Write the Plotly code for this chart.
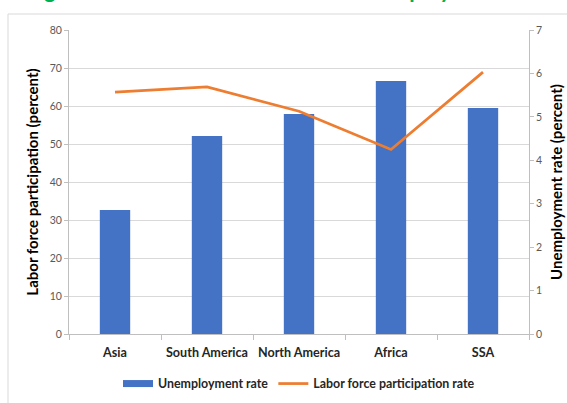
import plotly.graph_objects as go

regions = ["Asia", "South America", "North America", "Africa", "SSA"]
bar_values = [32.6, 52.1, 57.9, 66.6, 59.5]
line_values = [5.57, 5.69, 5.13, 4.25, 6.03]
left_ticks = [0, 10, 20, 30, 40, 50, 60, 70, 80]
right_ticks = [0, 1, 2, 3, 4, 5, 6, 7]

W, H = 567, 403
L, R, T, B = 69, 38, 30, 69
pw, ph = W - L - R, H - T - B

def px_x(p):
    return (p - L) / pw

def px_y(p):
    return (H - B - p) / ph

FONT = "Lato"
BLUE = "#4472C4"
ORANGE = "#ED7D31"

fig = go.Figure()
fig.add_trace(go.Bar(
    x=regions, y=bar_values, name="Unemployment rate",
    marker=dict(color=BLUE, line=dict(width=0)), width=0.33,
    yaxis="y", showlegend=False,
))
# legend proxy (wide rectangle swatch like the reference)
fig.add_trace(go.Scatter(
    x=[None], y=[None], name="Unemployment rate", mode="lines",
    line=dict(color=BLUE, width=7), yaxis="y",
))
fig.add_trace(go.Scatter(
    x=regions, y=line_values, name="Labor force participation rate",
    mode="lines", line=dict(color=ORANGE, width=2.75), yaxis="y2",
))

fig.update_layout(
    width=W, height=H,
    margin=dict(l=L, r=R, t=T, b=B, autoexpand=False),
    paper_bgcolor="white", plot_bgcolor="white",
    font=dict(family=FONT, color="#595959", size=10.5),
    showlegend=True,
    legend=dict(orientation="h", x=0.5, xanchor="center", y=px_y(384), yanchor="middle",
                font=dict(family=FONT, size=12.4, color="#262626", weight="bold"),
                tracegroupgap=0, itemwidth=30),
    xaxis=dict(
        type="category", showgrid=False, showline=True, linecolor="#bfbfbf", linewidth=1,
        ticks="outside", tickson="boundaries", ticklen=5, tickcolor="#bfbfbf",
        tickangle=0, ticklabelstandoff=7,
        tickfont=dict(family=FONT, size=12.6, color="#262626", weight="bold"),
        automargin=False,
    ),
    yaxis=dict(
        range=[0, 80], tickvals=left_ticks, showgrid=True, gridcolor="#d9d9d9", gridwidth=1,
        showline=True, linecolor="#bfbfbf", ticks="outside", ticklen=4, tickcolor="#bfbfbf",
        zeroline=False, automargin=False,
        title=dict(text="Labor force participation (percent)", standoff=7,
                   font=dict(family=FONT, size=15, color="#000000", weight="bold")),
    ),
    yaxis2=dict(
        range=[0, 7], tickvals=right_ticks, overlaying="y", side="right", showgrid=False,
        showline=True, linecolor="#bfbfbf", ticks="outside", ticklen=4, tickcolor="#bfbfbf",
        zeroline=False, automargin=False,
        title=dict(text="Unemployment rate (percent)", standoff=10,
                   font=dict(family=FONT, size=15, color="#000000", weight="bold")),
    ),
    shapes=[dict(type="rect", xref="paper", yref="paper",
                 x0=px_x(8), x1=px_x(580), y0=px_y(420), y1=px_y(14),
                 line=dict(color="#d9d9d9", width=1), fillcolor="rgba(0,0,0,0)", layer="below")],
    annotations=[dict(text="Figure 3: Labour Force Rates and Unemployment", xref="paper", yref="paper",
                      x=px_x(24), y=px_y(5), xanchor="left", yanchor="bottom", showarrow=False,
                      font=dict(family=FONT, size=22, color="#00B050", weight="bold"))],
)

fig.write_html("out.html", post_script="document.body.style.margin='0';",
               config={"displayModeBar": False})
